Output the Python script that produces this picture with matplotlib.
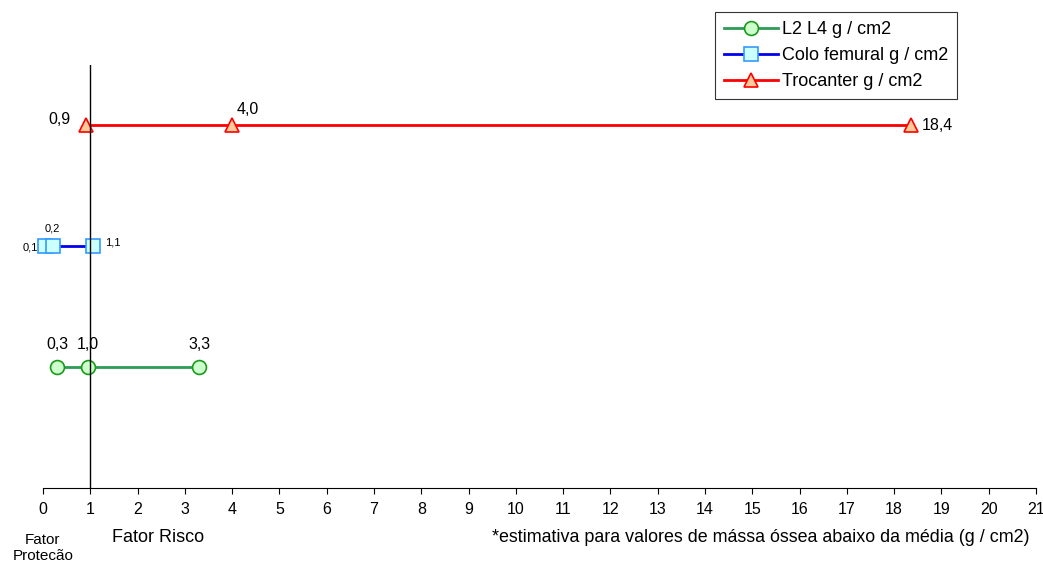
import matplotlib

matplotlib.use("Agg")
import matplotlib.pyplot as plt

plt.rcParams["font.family"] = ["Liberation Sans", "DejaVu Sans"]

# values
l2_x = [0.3, 0.95, 3.3]
l2_labels = ["0,3", "1,0", "3,3"]
colo_x = [0.05, 0.22, 1.05]
colo_labels = ["0,1", "0,2", "1,1"]
troc_x = [0.9, 4.0, 18.35]
troc_labels = ["0,9", "4,0", "18,4"]
series_names = ["L2 L4 g / cm2", "Colo femural g / cm2", "Trocanter g / cm2"]
x_ticks = list(range(0, 22))

fig = plt.figure(figsize=(10.43, 5.63), dpi=100)
ax = fig.add_axes([43 / 1043, 1 - 488 / 563, (1036 - 43) / 1043, (488 - 65) / 563])

ax.plot(l2_x, [1] * len(l2_x), "-o", color="#2e9b57", lw=2, ms=10,
        mfc="#ccffcc", mec="#1a9a1a", mew=1.2, label=series_names[0], clip_on=False)
ax.plot(colo_x, [2] * len(colo_x), "-s", color="#0000ee", lw=2, ms=10,
        mfc="#ccffff", mec="#3399ff", mew=1.2, label=series_names[1], clip_on=False)
ax.plot(troc_x, [3] * len(troc_x), "-^", color="#ff0000", lw=2, ms=10,
        mfc="#ffcc99", mec="#ff0000", mew=1.2, label=series_names[2], clip_on=False)

ax.axvline(1, color="black", lw=1)

fs = 11.5
# point labels
for x, t in zip(l2_x, l2_labels):
    ax.annotate(t, (x, 1), xytext=(0, 11), textcoords="offset points",
                ha="center", va="bottom", fontsize=fs)
ax.annotate(colo_labels[0], (colo_x[0], 2), xytext=(-11, -1), textcoords="offset points",
            ha="center", va="center", fontsize=8)
ax.annotate(colo_labels[1], (colo_x[1], 2), xytext=(-1, 9), textcoords="offset points",
            ha="center", va="bottom", fontsize=8)
ax.annotate(colo_labels[2], (colo_x[2], 2), xytext=(9, 3), textcoords="offset points",
            ha="left", va="center", fontsize=8)
ax.annotate(troc_labels[0], (troc_x[0], 3), xytext=(-11, 4), textcoords="offset points",
            ha="right", va="center", fontsize=fs)
ax.annotate(troc_labels[1], (troc_x[1], 3), xytext=(3, 6), textcoords="offset points",
            ha="left", va="bottom", fontsize=fs)
ax.annotate(troc_labels[2], (troc_x[2], 3), xytext=(8, 0), textcoords="offset points",
            ha="left", va="center", fontsize=fs)

ax.set_xlim(0, 21)
ax.set_ylim(0, 3.5)
ax.set_xticks(x_ticks)
ax.set_xticklabels([str(v) for v in x_ticks], fontsize=fs)
ax.tick_params(axis="x", direction="out", length=4, pad=6)
ax.set_yticks([])
for s in ["top", "right", "left"]:
    ax.spines[s].set_visible(False)

fig.text(43 / 1043, 1 - 548 / 563, "Fator\nProtecão", ha="center", va="center",
         fontsize=11, linespacing=1.1)
fig.text(112 / 1043, 1 - 537 / 563, "Fator Risco", ha="left", va="center", fontsize=13)
fig.text(1030 / 1043, 1 - 538 / 563,
         "*estimativa para valores de mássa óssea abaixo da média (g / cm2)",
         ha="right", va="center", fontsize=12.9)

leg = fig.legend(loc="upper left", bbox_to_anchor=(715 / 1043, 1 - 12 / 563),
                 borderaxespad=0, fontsize=13, frameon=True, fancybox=False,
                 edgecolor="black", handlelength=3.0, handletextpad=0.2,
                 borderpad=0.5, labelspacing=0.5)
leg.get_frame().set_linewidth(0.8)

fig.savefig("out.png", dpi=100)
